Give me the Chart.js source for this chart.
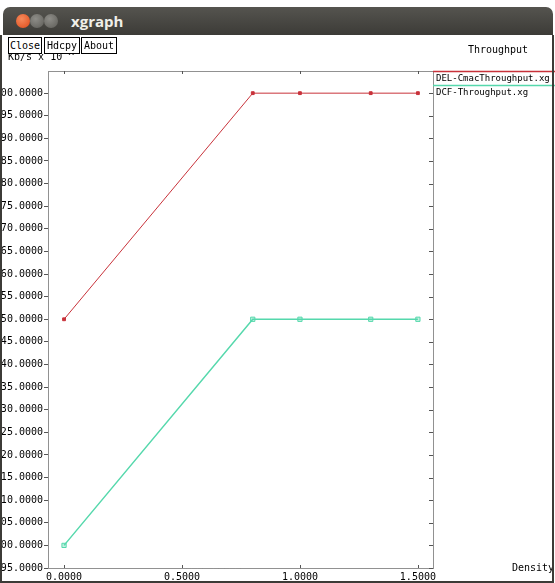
<!DOCTYPE html>
<html>
<head>
<meta charset="utf-8">
<script src="https://cdn.jsdelivr.net/npm/chart.js@4"></script>
<style>
  body { margin: 0; width: 555px; height: 583px; background: #fff; position: relative; overflow: hidden; font-family: "DejaVu Sans Mono", monospace; }
  #titlebar { position: absolute; left: 3px; top: 7px; width: 550px; height: 28px; border-radius: 7px 7px 0 0;
    background: linear-gradient(#55544f, #3c3b37); }
  #titlebar .dot { position: absolute; top: 7px; width: 14px; height: 14px; border-radius: 50%; }
  #titlebar .t { position: absolute; left: 68px; top: 4px; color: #f0efe9; font: bold 15px "Open Sans", sans-serif; }
  #frame { position: absolute; left: 0; top: 35px; width: 550px; height: 546px; border: 2px solid #3c3b37; border-top: none; z-index: 4; pointer-events: none; }
  .btn { position: absolute; top: 37px; height: 15px; border: 1px solid #000; background: #fff; font-size: 10px; line-height: 15px; text-align: center; z-index: 3; }
  #wrap { position: absolute; left: 0; top: 35px; width: 555px; height: 548px; }
</style>
</head>
<body>
<div id="titlebar">
  <div class="dot" style="left:13px;background:radial-gradient(circle at 40% 35%, #f58a5c, #de4a19);"></div>
  <div class="dot" style="left:27px;background:radial-gradient(circle at 40% 35%, #8e8d88, #5d5c57);"></div>
  <div class="dot" style="left:41px;background:radial-gradient(circle at 40% 35%, #8e8d88, #5d5c57);"></div>
  <div class="t">xgraph</div>
</div>
<div id="frame"></div>
<div class="btn" style="left:8px;width:32px;">Close</div>
<div class="btn" style="left:44px;width:34px;">Hdcpy</div>
<div class="btn" style="left:81px;width:34px;">About</div>
<div id="wrap"><canvas id="throughput"></canvas></div>
<script>
const density = [0, 0.8, 1.0, 1.3, 1.5];
const delCmacThroughput = [350, 400, 400, 400, 400];
const dcfThroughput = [300, 350, 350, 350, 350];
const seriesNames = ["DEL-CmacThroughput.xg", "DCF-Throughput.xg"];

const monoFont = { family: "DejaVu Sans Mono", size: 10 };

// xgraph style frame: dotted box, inner ticks, legend and axis titles
const xgraphFrame = {
  id: "xgraphFrame",
  afterDraw(chart) {
    const ctx = chart.ctx;
    const a = chart.chartArea;
    const xs = chart.scales.x;
    const ys = chart.scales.y;
    ctx.save();
    ctx.strokeStyle = "#222";
    ctx.lineWidth = 1;
    ctx.setLineDash([1, 1]);
    ctx.strokeRect(a.left + 0.5, a.top + 0.5, a.right - a.left, a.bottom - a.top);
    ctx.setLineDash([]);
    ctx.strokeStyle = "#555";
    ctx.beginPath();
    ys.ticks.forEach(t => {
      const y = Math.round(ys.getPixelForValue(t.value)) + 0.5;
      ctx.moveTo(a.right - 4, y);
      ctx.lineTo(a.right, y);
    });
    xs.ticks.forEach(t => {
      const x = Math.round(xs.getPixelForValue(t.value)) + 0.5;
      ctx.moveTo(x, a.top);
      ctx.lineTo(x, a.top + 3);
      ctx.moveTo(x, a.bottom - 3);
      ctx.lineTo(x, a.bottom);
    });
    ctx.stroke();

    ctx.font = "10px DejaVu Sans Mono";
    ctx.fillStyle = "#000";
    ctx.textBaseline = "alphabetic";
    ctx.textAlign = "center";
    ctx.fillText("Throughput", 498, 18);
    ctx.textAlign = "left";
    ctx.fillText("Density", 512, 536);
    ctx.fillText("Kb/s x 10 ^", 8, 25);

    ctx.font = "9px DejaVu Sans Mono";
    chart.data.datasets.forEach((ds, i) => {
      const y = a.top + i * 14;
      ctx.strokeStyle = ds.borderColor;
      ctx.lineWidth = 1.5;
      ctx.beginPath();
      ctx.moveTo(a.right, y + 0.5);
      ctx.lineTo(chart.width, y + 0.5);
      ctx.stroke();
      ctx.fillStyle = "#000";
      ctx.fillText(ds.label, a.right + 3, y + 10);
    });
    ctx.restore();
  },
};

const data = {
  datasets: [
    {
      label: seriesNames[0],
      data: density.map((d, i) => ({ x: d, y: delCmacThroughput[i] })),
      borderColor: "#c8323a",
      backgroundColor: "#c8323a",
      borderWidth: 1,
      pointStyle: "rect",
      pointRadius: 2,
      pointBorderWidth: 1,
    },
    {
      label: seriesNames[1],
      data: density.map((d, i) => ({ x: d, y: dcfThroughput[i] })),
      borderColor: "#55d8ac",
      backgroundColor: "rgba(85,216,172,0.35)",
      borderWidth: 1.5,
      pointStyle: "rect",
      pointRadius: 3,
      pointBorderWidth: 1,
    },
  ],
};

var ctx = document.getElementById("throughput");
var myChart = new Chart(ctx, {
  type: "line",
  data: data,
  plugins: [xgraphFrame],
  options: {
    responsive: true,
    maintainAspectRatio: false,
    animation: false,
    layout: { padding: { top: 36, right: 122, left: 0, bottom: 0 } },
    plugins: { legend: { display: false }, tooltip: { enabled: false } },
    scales: {
      x: {
        type: "linear",
        min: -0.068,
        max: 1.564,
        afterFit(scale) { scale.height = 15; },
        border: { display: false },
        grid: { display: false, drawTicks: false },
        ticks: {
          stepSize: 0.5,
          includeBounds: false,
          maxRotation: 0,
          padding: 3,
          color: "#000",
          font: monoFont,
          callback: v => v.toFixed(4),
        },
      },
      y: {
        min: 295,
        max: 404.9,
        afterFit(scale) { scale.width = 48; },
        border: { display: false },
        grid: { drawOnChartArea: false, tickLength: 4, tickColor: "#555" },
        ticks: {
          stepSize: 5,
          includeBounds: false,
          padding: 1,
          color: "#000",
          font: monoFont,
          callback: v => v.toFixed(4),
        },
      },
    },
  },
});
</script>
</body>
</html>
